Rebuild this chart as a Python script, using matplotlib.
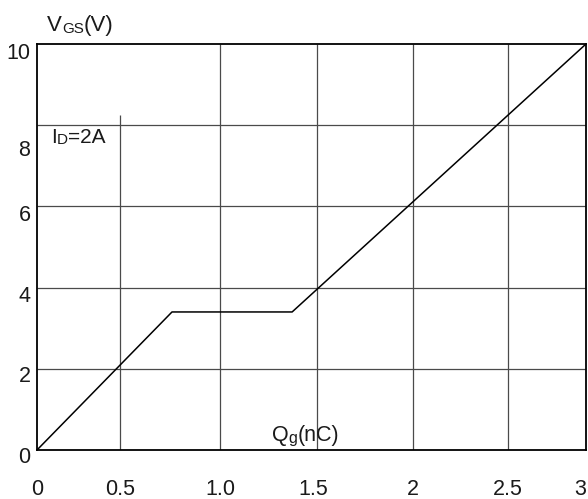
import numpy as np
import matplotlib
matplotlib.use("Agg")
import matplotlib.pyplot as plt

plt.rcParams['font.family'] = ['Liberation Sans', 'DejaVu Sans']

# gate charge curve, ID = 2A
qg = [0, 0.76, 1.37, 3.0]
vgs = [0, 3.4, 3.4, 10]

x_ticks = [0, 0.5, 1.0, 1.5, 2, 2.5, 3]
x_labels = ["0", "0.5", "1.0", "1.5", "2", "2.5", "3"]
y_ticks = [0, 2, 4, 6, 8, 10]
y_labels = ["0", "2", "4", "6", "8", "10"]

# the Qg grid of this sheet is not evenly spaced: fraction of width per tick
x_grid_frac = [0, 0.1512, 0.3333, 0.5109, 0.6840, 0.8579, 1.0]

# label nudges (points)
x_label_dx = [0, 0, 0, -2.7, 0, 0, -4.3]
y_label_drop = [5.4, 5.4, 6.5, 6.8, 18.5, 6.5]

TXT = '#1a1a1a'


def fwd(x):
    return np.interp(x, x_ticks, x_grid_frac)


def inv(u):
    return np.interp(u, x_grid_frac, x_ticks)


fig = plt.figure(figsize=(5.88, 4.99), dpi=100)
ax = fig.add_axes([37 / 588, 49 / 499, 549 / 588, 406 / 499])
ax.set_xscale('function', functions=(fwd, inv))
ax.set_xlim(0, 3)
ax.set_ylim(0, 10)
ax.set_xticks([])
ax.set_yticks([])

grid_kw = dict(color='#4a4a4a', lw=0.9, zorder=1)
ax.hlines(y_ticks[1:-1], 0, 3, **grid_kw)
ax.vlines(x_ticks[2:-1], 0, 10, **grid_kw)
ax.vlines(x_ticks[1], 0, 8.25, **grid_kw)

for s in ax.spines.values():
    s.set_linewidth(1.3)
    s.set_color('black')

ax.plot(qg, vgs, color='black', lw=1.1, zorder=3)

for q, lab, dx in zip(x_ticks, x_labels, x_label_dx):
    ax.annotate(lab, xy=(q, 0), xycoords=('data', 'axes fraction'),
                xytext=(dx, -28.5), textcoords='offset points',
                ha='center', va='center', fontsize=15.5, color=TXT,
                annotation_clip=False)

for v, lab, drop in zip(y_ticks, y_labels, y_label_drop):
    ax.annotate(lab, xy=(0, v), xycoords=('axes fraction', 'data'),
                xytext=(-4.7, -drop), textcoords='offset points',
                ha='right', va='center', fontsize=15.5, color=TXT)


def pieces(x, y, parts, coords):
    # write text pieces one after another, small ones for subscripts
    t = ax.annotate(parts[0][0], xy=(x, y), xycoords=coords,
                    fontsize=parts[0][1], va='baseline', ha='left',
                    color=TXT)
    for s, fs in parts[1:]:
        t = ax.annotate(s, xy=(1, 0), xycoords=t, fontsize=fs,
                        va='bottom', ha='left', color=TXT)


pieces(47 / 588, 468 / 499, [("V", 16), ("GS", 11), ("(V)", 16)],
       'figure fraction')
pieces(51 / 588, 356 / 499, [("I", 15), ("D", 11), ("=2A", 15)],
       'figure fraction')
pieces(272 / 588, 58 / 499, [("Q", 15.5), ("g", 11.5), ("(nC)", 15.5)],
       'figure fraction')

fig.savefig("out.png", dpi=100)
